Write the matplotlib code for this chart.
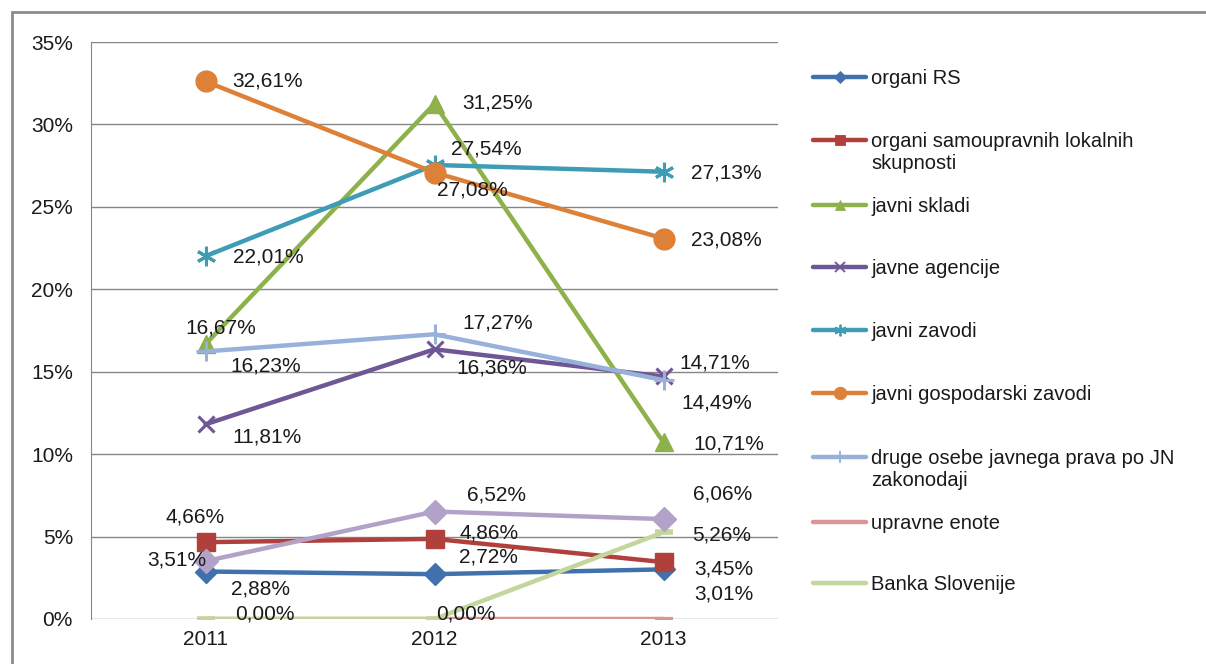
import matplotlib.pyplot as plt
from matplotlib.lines import Line2D
from matplotlib.patches import Rectangle

plt.rcParams['font.family'] = ['Liberation Sans', 'DejaVu Sans']

years = ["2011", "2012", "2013"]

organi_rs = [2.88, 2.72, 3.01]
organi_lokalne = [4.66, 4.86, 3.45]
javni_skladi = [16.67, 31.25, 10.71]
javne_agencije = [11.81, 16.36, 14.71]
javni_zavodi = [22.01, 27.54, 27.13]
javni_gosp_zavodi = [32.61, 27.08, 23.08]
druge_osebe = [16.23, 17.27, 14.49]
upravne_enote = [0.0, 0.0, 0.0]
banka_slovenije = [0.0, 0.0, 5.26]
ostalo = [3.51, 6.52, 6.06]  # 10th series, legend entry is cut off in the original

names = ["organi RS",
         "organi samoupravnih lokalnih\nskupnosti",
         "javni skladi",
         "javne agencije",
         "javni zavodi",
         "javni gospodarski zavodi",
         "druge osebe javnega prava po JN\nzakonodaji",
         "upravne enote",
         "Banka Slovenije"]

# (values, color, marker, size, mew, label offsets in pixels (dx, dy up), label shown)
series = [
    (organi_rs, '#4171AC', 'D', 11, 1, [(25, -17), (25, 17), (31, -25)], True),
    (organi_lokalne, '#B0403C', 's', 12.5, 1, [(-40, 25), (25, 6), (31, -7)], True),
    (javni_skladi, '#8DB14B', '^', 13, 1, [(-20, 16), (28, 1), (30, -2)], True),
    (javne_agencije, '#6F5694', 'x', 12, 2.2, [(27, -13), (22, -19), (16, 13)], True),
    (javni_zavodi, '#3E9CB5', (6, 2, 0), 14, 2.2, [(27, -1), (17, 16), (28, -1)], True),
    (javni_gosp_zavodi, '#DE8138', 'o', 15, 1, [(27, 0), (2, -17), (28, -1)], True),
    (druge_osebe, '#98B1DA', '+', 15, 2.2, [(25, -15), (28, 11), (18, -23)], True),
    (upravne_enote, '#D99694', '_', 13, 3, None, False),
    (banka_slovenije, '#C3D69B', '_', 13, 4, [(30, 5), (2, 5), (29, -3)], True),
    (ostalo, '#B3A2C7', 'D', 12, 1, [(-58, 1), (32, 17), (29, 25)], True),
]

fig = plt.figure(figsize=(12.06, 6.64), dpi=100)
ax = fig.add_axes([91 / 1206, 1 - 619 / 664, (778 - 91) / 1206, (619 - 42) / 664])

x = list(range(len(years)))
for vals, col, mk, ms, mew, offs, show in series:
    ax.plot(x, vals, color=col, lw=3.2, marker=mk, ms=ms, mew=mew,
            mec=col, mfc=col, solid_capstyle='round', zorder=3)
    if show:
        for xi, v, (dx, dy) in zip(x, vals, offs):
            ax.annotate(f"{v:.2f}%".replace('.', ','), (xi, v),
                        xytext=(dx, dy), textcoords='offset pixels',
                        ha='left', va='center', fontsize=15, color='#1a1a1a',
                        zorder=5)

ax.set_xlim(-0.5, 2.5)
ax.set_ylim(0, 35)
ax.set_xticks(x)
ax.set_xticklabels(years)
ax.set_yticks(range(0, 36, 5))
ax.set_yticklabels([f"{v}%" for v in range(0, 36, 5)])
ax.tick_params(axis='both', length=0, labelsize=15, colors='#1a1a1a')
ax.tick_params(axis='y', pad=13)
ax.tick_params(axis='x', pad=8)
ax.grid(axis='y', color='#868686', lw=1)
ax.set_axisbelow(True)
for s in ['top', 'right', 'bottom']:
    ax.spines[s].set_visible(False)
ax.spines['left'].set_color('#868686')

# legend drawn by hand to keep Excel's fixed row spacing
W, H = 1206, 664
leg_rows = [77, 140, 205, 267, 330, 393, 457, 522, 583]
for (vals, col, mk, ms, mew, offs, show), name, yy in zip(series, names, leg_rows):
    fy = 1 - yy / H
    fig.add_artist(Line2D([813 / W, 866 / W], [fy, fy], color=col, lw=3.2,
                          solid_capstyle='round', transform=fig.transFigure))
    if mk != '_':
        fig.add_artist(Line2D([840 / W], [fy], color=col, marker=mk, ms=ms * 0.6,
                              mew=mew * 0.6, mec=col, mfc=col, transform=fig.transFigure))
    fig.text(871 / W, 1 - (yy - 8) / H, name, ha='left', va='top',
             fontsize=14.5, color='#1a1a1a', linespacing=1.2)

fig.add_artist(Rectangle((12 / W, -0.1), 1.1, 1.1 - 12 / H, fill=False,
                         ec='#8C8C8C', lw=2, transform=fig.transFigure))

fig.savefig('out.png', dpi=100)
